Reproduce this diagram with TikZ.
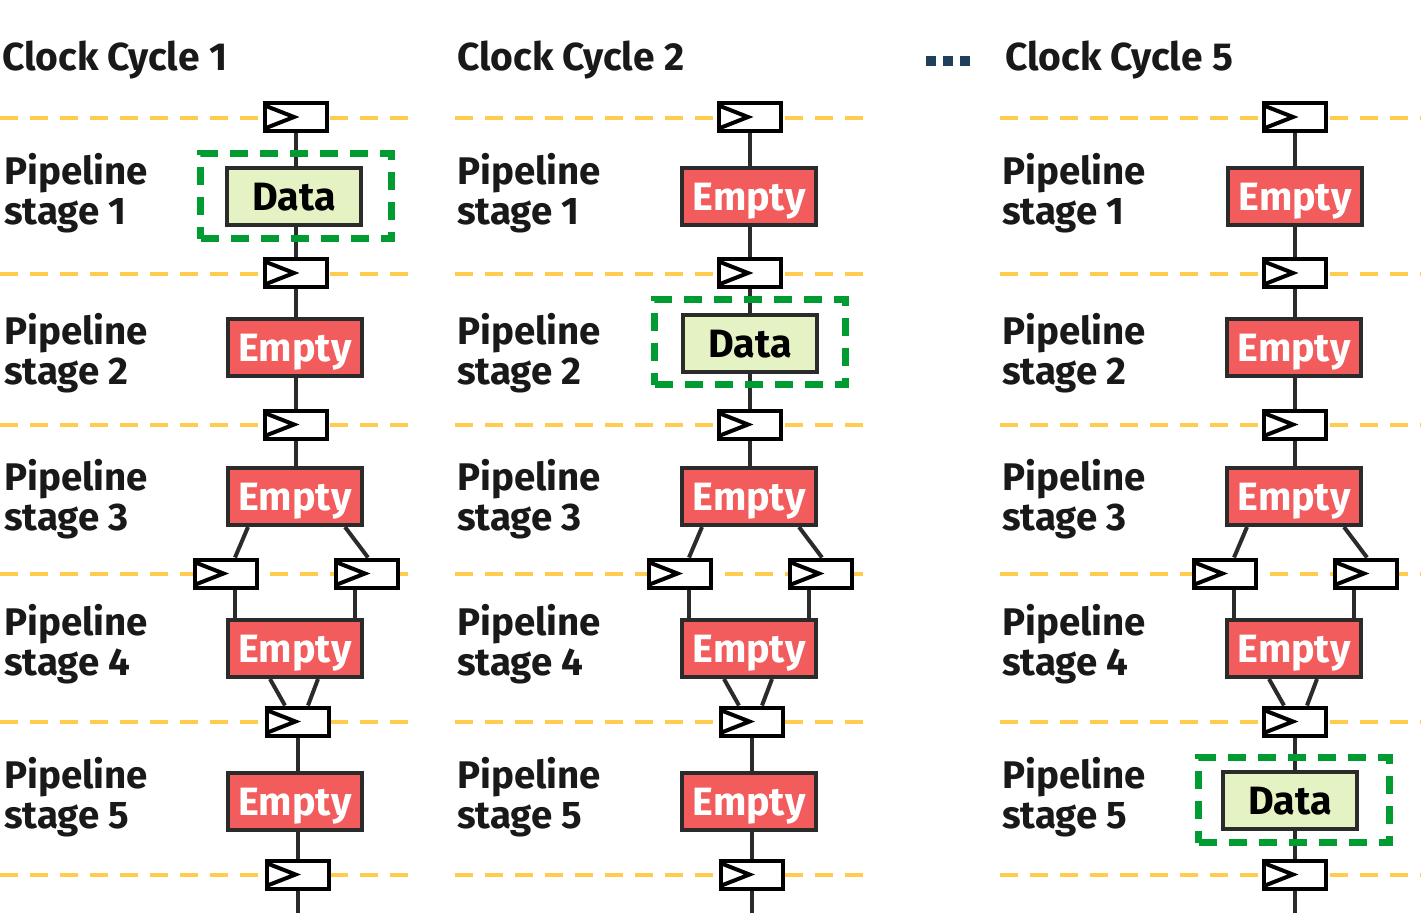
\documentclass[tikz,border=0pt]{standalone}
\usepackage{fontspec}
\setmainfont{Fira Sans}
\definecolor{ylw}{HTML}{FFCC4D}
\definecolor{redf}{HTML}{F25C5C}
\definecolor{grnf}{HTML}{E4F2C4}
\definecolor{grnd}{HTML}{009B31}
\definecolor{bord}{HTML}{2B2B2B}
\definecolor{dotc}{HTML}{1F3F5A}
\pgfdeclarelayer{bg}
\pgfsetlayers{bg,main}
\tikzset{
  ydash/.style={draw=ylw, line width=3.5pt, dash pattern=on 18pt off 12pt},
  reg/.style={draw=black, fill=white, line width=4pt, minimum width=62pt, minimum height=28pt, inner sep=0pt,
    path picture={\draw[line width=4pt, line join=miter]
      ([xshift=1pt,yshift=-3pt]path picture bounding box.north west) --
      ([xshift=29pt]path picture bounding box.west) --
      ([xshift=1pt,yshift=3pt]path picture bounding box.south west);}},
  stagebox/.style={draw=bord, line width=4pt, minimum width=134pt, minimum height=57pt, inner sep=0pt,
    text depth=0pt, font=\fontsize{39.5}{40}\selectfont\bfseries},
  emptybox/.style={stagebox, fill=redf, text=white},
  databox/.style={stagebox, fill=grnf, text=black},
  gbox/.style={draw=grnd, line width=7pt, dash pattern=on 18pt off 12pt, minimum width=191pt, minimum height=85pt, inner sep=0pt},
  conn/.style={draw=bord, line width=4pt},
  lbl/.style={anchor=west, align=left, inner sep=0pt, font=\fontsize{38.5}{40}\selectfont\bfseries, text=black!90},
  ttl/.style={anchor=base west, inner sep=0pt, font=\fontsize{39}{40}\selectfont\bfseries, text=black!90},
  sq/.style={fill=dotc, minimum size=10pt, inner sep=0pt},
}
\begin{document}
\begin{tikzpicture}[x=1pt,y=-1pt]
\useasboundingbox (0,0) rectangle (1421,913);
% titles
\node[ttl] (t1) at (2,70) {Clock Cycle 1};
\node[ttl] (t2) at (457,70) {Clock Cycle 2};
\node[ttl] (t3) at (1005,70) {Clock Cycle 5};
\node[sq] (d1) at (931,61) {};
\node[sq] (d2) at (948,61) {};
\node[sq] (d3) at (965,61) {};

% ===== column 1 =====
\begin{scope}
\begin{pgfonlayer}{bg}
\foreach \yy in {118,274,425,574,722,875} \draw[ydash] (0,\yy) -- (412,\yy);
\end{pgfonlayer}
\node[lbl] (al1) at (4,193) {Pipeline\\stage 1};
\node[lbl] (al2) at (4,353) {Pipeline\\stage 2};
\node[lbl] (al3) at (4,499) {Pipeline\\stage 3};
\node[lbl] (al4) at (4,644) {Pipeline\\stage 4};
\node[lbl] (al5) at (4,797) {Pipeline\\stage 5};
\node[reg] (ar0) at (296,117) {};
\node[databox] (as1) at (294,196.5) {Data};
\node[reg] (ar1) at (296,273) {};
\node[emptybox] (as2) at (295,347.5) {Empty};
\node[reg] (ar2) at (296,424.5) {};
\node[emptybox] (as3) at (295,496.5) {Empty};
\node[reg] (arL) at (225.5,573.5) {};
\node[reg] (arR) at (367,573.5) {};
\node[emptybox] (as4) at (295,648.5) {Empty};
\node[reg] (ar4) at (297.5,721.5) {};
\node[emptybox] (as5) at (295,801.5) {Empty};
\node[reg] (ar5) at (297.5,874.5) {};
\coordinate (aend) at (297.5,913);
\node[gbox] (ag) at (296,196) {};
\begin{pgfonlayer}{bg}
\draw[conn] (ar0.south) -- (ar0.south |- as1.north);
\draw[conn] (ar1.north) -- (ar1.north |- as1.south);
\draw[conn] (ar1.south) -- (ar1.south |- as2.north);
\draw[conn] (ar2.north) -- (ar2.north |- as2.south);
\draw[conn] (ar2.south) -- (ar2.south |- as3.north);
\draw[conn] ([xshift=-47pt]as3.south) -- ([xshift=9.5pt]arL.north);
\draw[conn] ([xshift=50pt]as3.south) -- ([xshift=1pt]arR.north);
\draw[conn] ([xshift=9.5pt]arL.south) -- ([xshift=-60pt]as4.north);
\draw[conn] ([xshift=-12pt]arR.south) -- ([xshift=60pt]as4.north);
\draw[conn] ([xshift=-25pt]as4.south) -- ([xshift=-12.5pt]ar4.north);
\draw[conn] ([xshift=23pt]as4.south) -- ([xshift=10.5pt]ar4.north);
\draw[conn] (ar4.south) -- (ar4.south |- as5.north);
\draw[conn] (ar5.north) -- (ar5.north |- as5.south);
\draw[conn] (ar5.south) -- (aend);
\end{pgfonlayer}
\end{scope}

% ===== column 2 =====
\begin{scope}[xshift=454pt]
\begin{pgfonlayer}{bg}
\foreach \yy in {118,274,425,574,722,875} \draw[ydash] (1,\yy) -- (411,\yy);
\end{pgfonlayer}
\node[lbl] (bl1) at (3,193) {Pipeline\\stage 1};
\node[lbl] (bl2) at (3,353) {Pipeline\\stage 2};
\node[lbl] (bl3) at (3,499) {Pipeline\\stage 3};
\node[lbl] (bl4) at (3,644) {Pipeline\\stage 4};
\node[lbl] (bl5) at (3,797) {Pipeline\\stage 5};
\node[reg] (br0) at (296,117) {};
\node[emptybox] (bs1) at (295,196.5) {Empty};
\node[reg] (br1) at (296,273) {};
\node[databox] (bs2) at (296,343.5) {Data};
\node[reg] (br2) at (296,424.5) {};
\node[emptybox] (bs3) at (295,496.5) {Empty};
\node[reg] (brL) at (225.5,573.5) {};
\node[reg] (brR) at (367,573.5) {};
\node[emptybox] (bs4) at (295,648.5) {Empty};
\node[reg] (br4) at (297.5,721.5) {};
\node[emptybox] (bs5) at (295,801.5) {Empty};
\node[reg] (br5) at (297.5,874.5) {};
\coordinate (bend) at (297.5,913);
\node[gbox] (bg) at (296,342) {};
\begin{pgfonlayer}{bg}
\draw[conn] (br0.south) -- (br0.south |- bs1.north);
\draw[conn] (br1.north) -- (br1.north |- bs1.south);
\draw[conn] (br1.south) -- (br1.south |- bs2.north);
\draw[conn] (br2.north) -- (br2.north |- bs2.south);
\draw[conn] (br2.south) -- (br2.south |- bs3.north);
\draw[conn] ([xshift=-47pt]bs3.south) -- ([xshift=9.5pt]brL.north);
\draw[conn] ([xshift=50pt]bs3.south) -- ([xshift=1pt]brR.north);
\draw[conn] ([xshift=9.5pt]brL.south) -- ([xshift=-60pt]bs4.north);
\draw[conn] ([xshift=-12pt]brR.south) -- ([xshift=60pt]bs4.north);
\draw[conn] ([xshift=-25pt]bs4.south) -- ([xshift=-12.5pt]br4.north);
\draw[conn] ([xshift=23pt]bs4.south) -- ([xshift=10.5pt]br4.north);
\draw[conn] (br4.south) -- (br4.south |- bs5.north);
\draw[conn] (br5.north) -- (br5.north |- bs5.south);
\draw[conn] (br5.south) -- (bend);
\end{pgfonlayer}
\end{scope}

% ===== column 3 =====
\begin{scope}[xshift=999pt]
\begin{pgfonlayer}{bg}
\foreach \yy in {118,274,425,574,722,875} \draw[ydash] (1,\yy) -- (422,\yy);
\end{pgfonlayer}
\node[lbl] (cl1) at (3,193) {Pipeline\\stage 1};
\node[lbl] (cl2) at (3,353) {Pipeline\\stage 2};
\node[lbl] (cl3) at (3,499) {Pipeline\\stage 3};
\node[lbl] (cl4) at (3,644) {Pipeline\\stage 4};
\node[lbl] (cl5) at (3,797) {Pipeline\\stage 5};
\node[reg] (cr0) at (296,117) {};
\node[emptybox] (cs1) at (296,196.5) {Empty};
\node[reg] (cr1) at (296,273) {};
\node[emptybox] (cs2) at (295,347.5) {Empty};
\node[reg] (cr2) at (296,424.5) {};
\node[emptybox] (cs3) at (295,496.5) {Empty};
\node[reg] (crL) at (225.5,573.5) {};
\node[reg] (crR) at (367,573.5) {};
\node[emptybox] (cs4) at (295,648.5) {Empty};
\node[reg] (cr4) at (296,721.5) {};
\node[databox] (cs5) at (291,800.5) {Data};
\node[reg] (cr5) at (296,874.5) {};
\coordinate (cend) at (296,913);
\node[gbox] (cg) at (295,800) {};
\begin{pgfonlayer}{bg}
\draw[conn] (cr0.south) -- (cr0.south |- cs1.north);
\draw[conn] (cr1.north) -- (cr1.north |- cs1.south);
\draw[conn] (cr1.south) -- (cr1.south |- cs2.north);
\draw[conn] (cr2.north) -- (cr2.north |- cs2.south);
\draw[conn] (cr2.south) -- (cr2.south |- cs3.north);
\draw[conn] ([xshift=-47pt]cs3.south) -- ([xshift=9.5pt]crL.north);
\draw[conn] ([xshift=50pt]cs3.south) -- ([xshift=1pt]crR.north);
\draw[conn] ([xshift=9.5pt]crL.south) -- ([xshift=-60pt]cs4.north);
\draw[conn] ([xshift=-12pt]crR.south) -- ([xshift=60pt]cs4.north);
\draw[conn] ([xshift=-25pt]cs4.south) -- ([xshift=-11pt]cr4.north);
\draw[conn] ([xshift=23pt]cs4.south) -- ([xshift=12pt]cr4.north);
\draw[conn] (cr4.south) -- (cr4.south |- cs5.north);
\draw[conn] (cr5.north) -- (cr5.north |- cs5.south);
\draw[conn] (cr5.south) -- (cend);
\end{pgfonlayer}
\end{scope}
\end{tikzpicture}
\end{document}
